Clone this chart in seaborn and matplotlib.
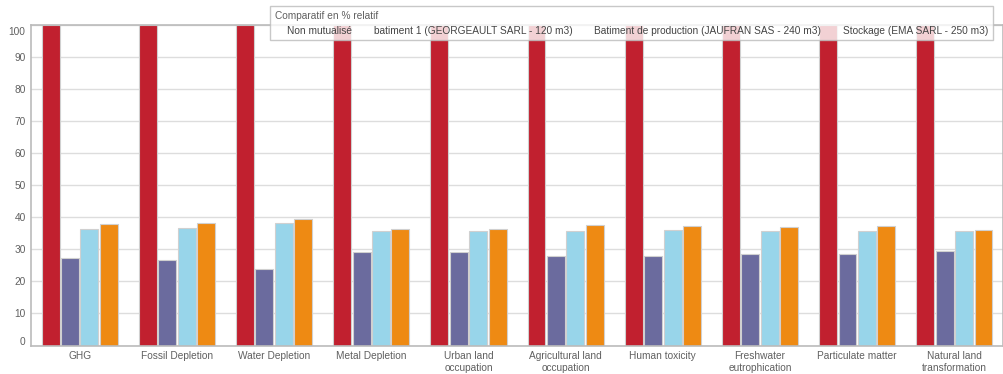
import numpy as np
import pandas as pd
import matplotlib
matplotlib.use('Agg')
import matplotlib.pyplot as plt
import matplotlib.transforms as mtransforms
import seaborn as sns

# Données
categories = ['GHG', 'Fossil Depletion', 'Water Depletion', 'Metal Depletion',
              'Urban land\noccupation', 'Agricultural land\noccupation', 'Human toxicity',
              'Freshwater\neutrophication', 'Particulate matter', 'Natural land\ntransformation']
series = ['Non mutualisé', 'batiment 1 (GEORGEAULT SARL - 120 m3)',
          'Batiment de production (JAUFRAN SAS - 240 m3)', 'Stockage (EMA SARL - 250 m3)']
non_mutualise = [100, 100, 100, 100, 100, 100, 100, 100, 100, 100]
batiment_1 = [27.2, 26.6, 23.8, 29.2, 29.2, 28.0, 28.0, 28.4, 28.4, 29.6]
batiment_prod = [36.2, 36.5, 38.1, 35.7, 35.7, 35.7, 36.0, 35.7, 35.7, 35.7]
stockage = [37.8, 38.1, 39.3, 36.2, 36.2, 37.5, 37.2, 36.9, 37.2, 36.0]
colors = ['#C1202F', '#6B6B9E', '#98D5EA', '#EE8A13']

rows = []
for s, vals in zip(series, [non_mutualise, batiment_1, batiment_prod, stockage]):
    for c, v in zip(categories, vals):
        rows.append({'cat': c, 'val': v, 'serie': s})
df = pd.DataFrame(rows)

sns.set_style('white')
plt.rcParams['font.family'] = ['Liberation Sans', 'DejaVu Sans']
fs = 7.3

fig = plt.figure(figsize=(10.04, 3.74), dpi=100)
ax = fig.add_axes([0.031, 0.076, 0.968, 0.858])

sns.barplot(data=df, x='cat', y='val', hue='serie', palette=colors, width=0.8, gap=0.08,
            edgecolor='#d0d0d0', linewidth=0.8, saturation=1, ax=ax, zorder=2)

ax.set_xlim(-0.5, 9.5)
ax.set_ylim(0, 100)
ax.set_yticks(range(0, 101, 10))
ax.yaxis.grid(True, color='#dddddd', linewidth=1, zorder=0)
ax.set_axisbelow(True)
ax.set_xlabel('')
ax.set_ylabel('')
ax.tick_params(axis='both', length=0, labelsize=fs, colors='#606060')
ax.tick_params(axis='x', pad=4)
ax.tick_params(axis='y', pad=4)
for sp in ax.spines.values():
    sp.set_color('#bbbbbb')
    sp.set_linewidth(1.2)

# les étiquettes extrêmes sont décalées vers l'intérieur comme dans l'original
ylabels = ax.get_yticklabels()
ylabels[0].set_transform(ylabels[0].get_transform() + mtransforms.ScaledTranslation(0, 5 / 100, fig.dpi_scale_trans))
ylabels[-1].set_transform(ylabels[-1].get_transform() + mtransforms.ScaledTranslation(0, -6 / 100, fig.dpi_scale_trans))

# Légende sans pastilles, fond semi-transparent
handles, labels = ax.get_legend_handles_labels()
for h in handles:
    h.set_visible(False)
leg = ax.legend(handles, labels, title='Comparatif en % relatif', ncol=4,
                loc='upper left', bbox_to_anchor=(0.269, 0.984),
                bbox_transform=fig.transFigure,
                handlelength=0, handletextpad=1.2, columnspacing=0.95,
                fontsize=fs, title_fontsize=fs, frameon=True, fancybox=False,
                borderpad=0.45, labelspacing=0.5, borderaxespad=0)
leg._legend_box.align = 'left'
leg.get_frame().set_facecolor('white')
leg.get_frame().set_alpha(0.8)
leg.get_frame().set_edgecolor('#bbbbbb')
leg.get_title().set_color('#606060')
for t in leg.get_texts():
    t.set_color('#444444')

fig.savefig('out.png', dpi=100)
